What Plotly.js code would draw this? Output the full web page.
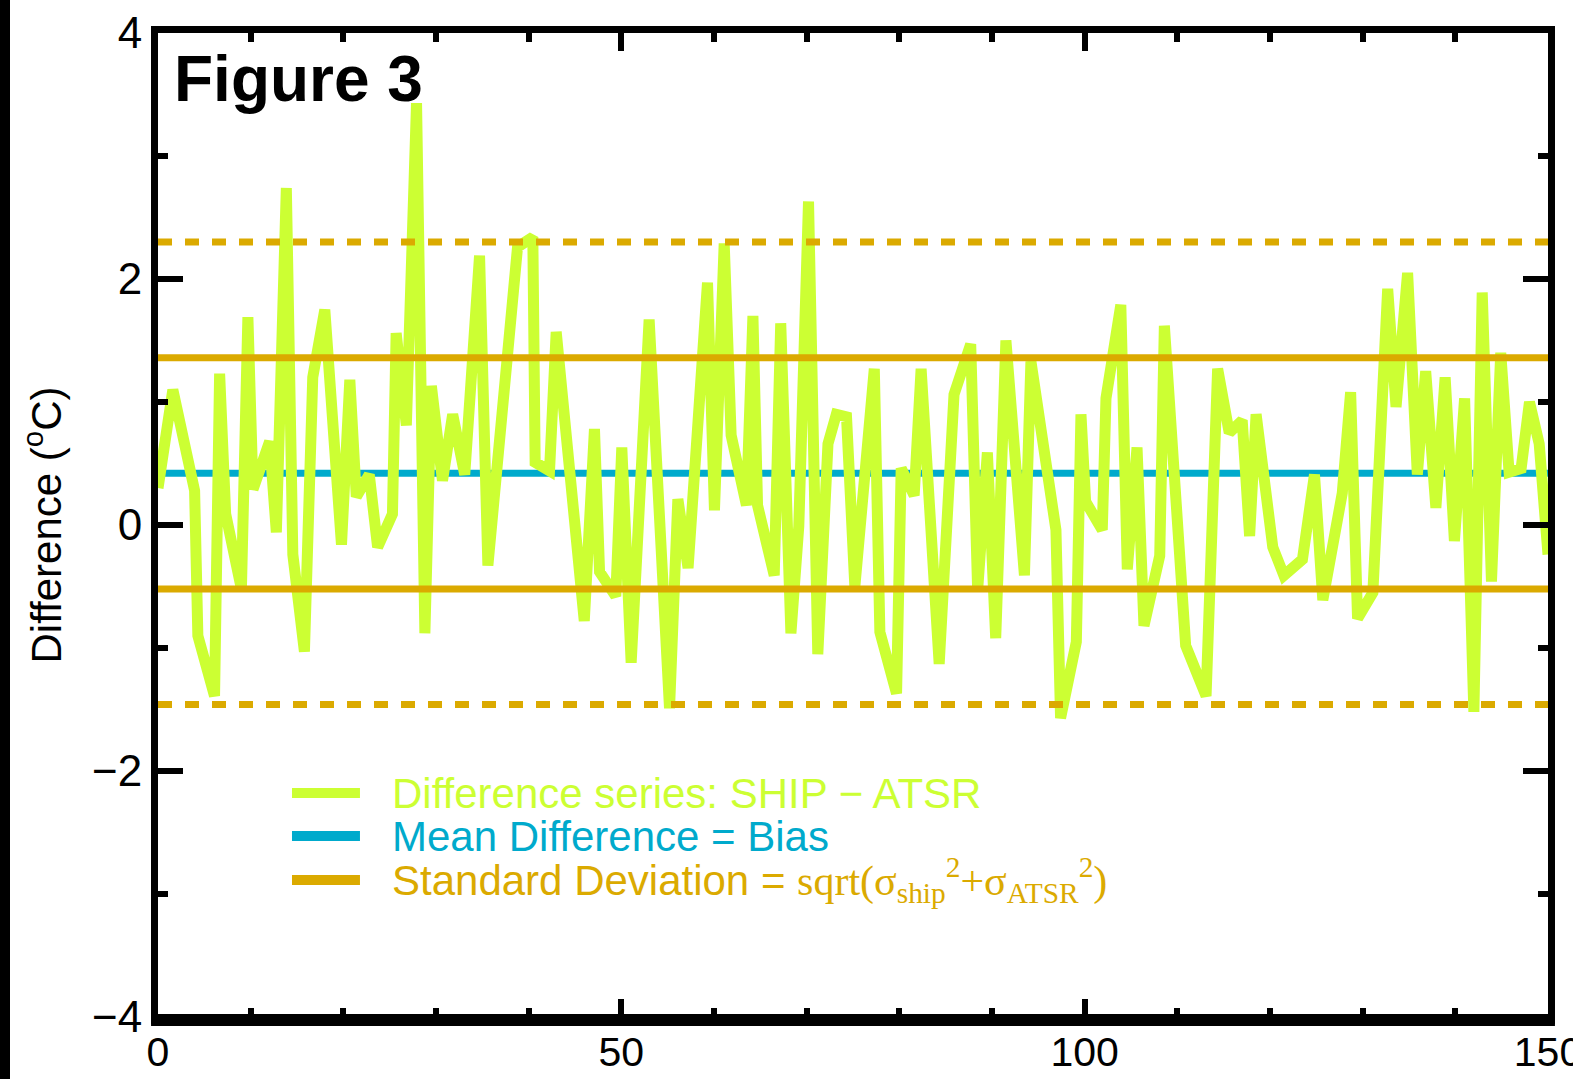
<!DOCTYPE html>
<html>
<head>
<meta charset="utf-8">
<script src="https://cdn.plot.ly/plotly-3.0.1.min.js"></script>
<style>
html,body{margin:0;padding:0;background:#fff;overflow:hidden}
#chart{width:1573px;height:1079px}
#edge{position:absolute;left:0;top:0;width:10px;height:1079px;background:#000}
</style>
</head>
<body>
<div id="chart"></div>
<div id="edge"></div>
<script>
// ---- data ----
const sampleX = [
  0, 1.6, 3.95, 4.3, 6.1, 6.65, 7.3, 9.0, 9.7, 10.25,
  12.05, 12.77, 13.85, 14.55, 15.8, 16.7, 18.0, 19.8, 20.7, 21.4,
  22.8, 23.7, 25.3, 25.7, 26.8, 27.9, 28.8, 29.5, 30.7, 31.8,
  33.1, 34.7, 35.6, 38.8, 40.45, 40.7, 42.25, 42.97, 46.0, 47.1,
  47.65, 49.4, 50.05, 51.06, 53.0, 55.2, 56.1, 57.2, 59.3, 60.05,
  61.1, 61.85, 63.5, 64.2, 64.7, 66.5, 67.2, 68.3, 69.15, 70.2,
  71.2, 72.3, 73.2, 74.3, 75.2, 77.3, 77.9, 79.7, 80.2, 81.6,
  82.35, 84.3, 85.9, 87.7, 88.45, 89.5, 90.4, 91.5, 93.5, 94.2,
  96.9, 97.4, 99.1, 99.6, 100.1, 101.9, 102.3, 103.9, 104.6, 105.65,
  106.4, 108.1, 108.6, 110.9, 113.1, 114.35, 115.6, 117.0, 117.8, 118.5,
  120.3, 121.5, 123.5, 124.8, 125.7, 127.8, 128.7, 129.45, 131.1, 132.7,
  133.6, 134.85, 135.9, 136.8, 137.9, 138.9, 139.9, 141.0, 142.0, 142.9,
  143.9, 144.9, 145.8, 147.1, 148.0, 149.05, 150
];
const differenceSeries = [
  0.3, 1.1, 0.28, -0.9, -1.39, 1.23, 0.09, -0.52, 1.69, 0.29,
  0.68, -0.06, 2.74, -0.24, -1.03, 1.2, 1.75, -0.16, 1.18, 0.23,
  0.41, -0.18, 0.09, 1.56, 0.81, 3.43, -0.88, 1.13, 0.36, 0.9,
  0.41, 2.19, -0.33, 2.26, 2.34, 0.51, 0.44, 1.57, -0.78, 0.78,
  -0.38, -0.58, 0.63, -1.12, 1.67, -1.49, 0.21, -0.35, 1.97, 0.12,
  2.29, 0.73, 0.16, 1.70, 0.16, -0.41, 1.64, -0.88, -0.01, 2.63,
  -1.05, 0.66, 0.90, 0.88, -0.5, 1.27, -0.87, -1.37, 0.46, 0.24,
  1.27, -1.13, 1.06, 1.47, -0.53, 0.59, -0.92, 1.50, -0.41, 1.33,
  -0.04, -1.57, -0.95, 0.90, 0.19, -0.04, 1.03, 1.79, -0.36, 0.63,
  -0.82, -0.25, 1.62, -0.98, -1.39, 1.27, 0.75, 0.85, -0.09, 0.90,
  -0.18, -0.41, -0.28, 0.41, -0.61, 0.26, 1.08, -0.76, -0.55, 1.92,
  0.96, 2.05, 0.41, 1.25, 0.14, 1.20, -0.13, 1.03, -1.52, 1.89,
  -0.46, 1.40, 0.43, 0.46, 1.0, 0.66, -0.24
];
const xSpan = [0, 150];
const meanBias = [0.42, 0.42];
const sdUpper = [1.36, 1.36];
const sdLower = [-0.52, -0.52];
const twoSdUpper = [2.30, 2.30];
const twoSdLower = [-1.46, -1.46];
const xTickVals = [0, 50, 100, 150];
const yTickVals = [-4, -2, 0, 2, 4];
const legendLabels = [
  'Difference series: SHIP \u2212 ATSR',
  'Mean Difference = Bias',
  'Standard Deviation = <span style="font-family:\'Liberation Serif\',\'DejaVu Serif\',serif">sqrt(\u03c3<sub>ship</sub><sup>2</sup>+\u03c3<sub>ATSR</sub><sup>2</sup>)</span>'
];

// ---- styles ----
const GREEN = '#ccff33';
const BLUE = '#00aacc';
const ORANGE = '#dbaa00';
const legendColors = [GREEN, BLUE, ORANGE];
const FONT = "'Liberation Sans', Arial, Helvetica, sans-serif";

const traces = [
  {x: xSpan, y: meanBias, mode: 'lines', line: {color: BLUE, width: 7}, hoverinfo: 'skip', showlegend: false},
  {x: sampleX, y: differenceSeries, mode: 'lines', line: {color: GREEN, width: 11}, showlegend: false},
  {x: xSpan, y: sdUpper, mode: 'lines', line: {color: ORANGE, width: 7}, hoverinfo: 'skip', showlegend: false},
  {x: xSpan, y: sdLower, mode: 'lines', line: {color: ORANGE, width: 7}, hoverinfo: 'skip', showlegend: false},
  {x: xSpan, y: twoSdUpper, mode: 'lines', line: {color: ORANGE, width: 7, dash: '14px,13px'}, hoverinfo: 'skip', showlegend: false},
  {x: xSpan, y: twoSdLower, mode: 'lines', line: {color: ORANGE, width: 7, dash: '14px,13px'}, hoverinfo: 'skip', showlegend: false}
];

// legend drawn as shapes + annotations (paper coordinates)
const legendRowY = [0.2276, 0.1839, 0.1392];
const shapes = legendRowY.map((yy, i) => ({
  type: 'line', xref: 'paper', yref: 'paper', x0: 0.0964, x1: 0.1453, y0: yy, y1: yy,
  line: {color: legendColors[i], width: 10}
}));
// thicker bottom frame, as in the reference
shapes.push({type: 'line', xref: 'paper', yref: 'paper', x0: -0.005, x1: 1.005, y0: -0.003, y1: -0.003,
  line: {color: '#000', width: 12}});
const annotations = legendRowY.map((yy, i) => ({
  xref: 'paper', yref: 'paper', x: 0.1669, y: yy, xanchor: 'left', yanchor: 'middle',
  text: legendLabels[i], showarrow: false, font: {family: FONT, size: 42, color: legendColors[i]}
}));
annotations.push({
  xref: 'paper', yref: 'paper', x: 0.010, y: 0.992, xanchor: 'left', yanchor: 'top',
  text: '<b>Figure 3</b>', showarrow: false, font: {family: FONT, size: 64, color: '#000'}
});

const layout = {
  width: 1573, height: 1079,
  margin: {l: 158, r: 25, t: 33, b: 62},
  paper_bgcolor: '#fff', plot_bgcolor: '#fff',
  font: {family: FONT, color: '#000'},
  xaxis: {
    range: [0, 150], tickmode: 'array', tickvals: xTickVals,
    ticks: 'inside', ticklen: 18, tickwidth: 6, tickcolor: '#000',
    minor: {tickmode: 'linear', tick0: 0, dtick: 10, ticks: 'inside', ticklen: 9, tickwidth: 6, tickcolor: '#000'},
    showline: true, linewidth: 7, linecolor: '#000', mirror: 'ticks',
    showgrid: false, zeroline: false, ticklabeloverflow: 'allow', ticklabelstandoff: -7,
    tickfont: {family: FONT, size: 41, color: '#000'}
  },
  yaxis: {
    range: [-4, 4], tickmode: 'array', tickvals: yTickVals,
    ticks: 'inside', ticklen: 25, tickwidth: 6, tickcolor: '#000',
    minor: {tickmode: 'linear', tick0: 0, dtick: 1, ticks: 'inside', ticklen: 10, tickwidth: 6, tickcolor: '#000'},
    showline: true, linewidth: 7, linecolor: '#000', mirror: 'ticks',
    showgrid: false, zeroline: false, ticklabeloverflow: 'allow',
    tickfont: {family: FONT, size: 44, color: '#000'},
    title: {text: 'Difference (<sup>o</sup>C)', font: {family: FONT, size: 42, color: '#000'}, standoff: 20}
  },
  shapes: shapes,
  annotations: annotations,
  showlegend: false
};

Plotly.newPlot('chart', traces, layout, {staticPlot: true});
</script>
</body>
</html>
